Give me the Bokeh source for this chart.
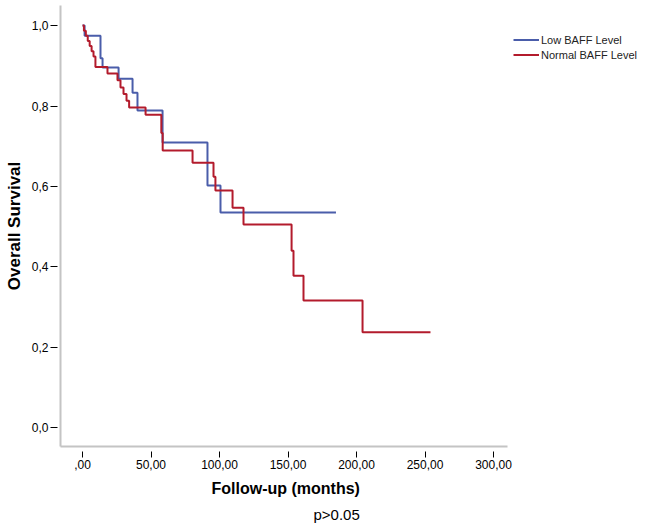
from bokeh.plotting import figure
from bokeh.models import Range1d, FixedTicker, Legend, LegendItem, Title
from bokeh.embed import file_html
from bokeh.resources import INLINE

# ---- data ----
low_t = [0, 1.5, 13.1, 14.6, 26.3, 36.5, 40.1, 58.4, 91.2, 100.7, 185.0]
low_s = [1.0, 0.975, 0.919, 0.896, 0.868, 0.833, 0.789, 0.709, 0.602, 0.535, 0.535]

norm_t = [0, 1.0, 2.4, 3.8, 5.2, 6.6, 8.0, 9.4, 18.2, 25.5, 27.7, 29.9, 32.1, 34.0,
          46.0, 57.5, 58.5, 80.3, 95.6, 97.0, 109.5, 117.5, 152.6, 154.0, 161.3, 204.4, 254.0]
norm_s = [1.0, 0.987, 0.975, 0.962, 0.949, 0.936, 0.923, 0.897, 0.881, 0.864, 0.846, 0.830, 0.813, 0.796,
          0.778, 0.733, 0.689, 0.659, 0.624, 0.590, 0.547, 0.505, 0.440, 0.378, 0.316, 0.237, 0.237]

x_ticks = [0, 50, 100, 150, 200, 250, 300]
x_tick_labels = [",00", "50,00", "100,00", "150,00", "200,00", "250,00", "300,00"]
y_ticks = [0.0, 0.2, 0.4, 0.6, 0.8, 1.0]
y_tick_labels = ["0,0", "0,2", "0,4", "0,6", "0,8", "1,0"]

series_names = ["Low BAFF Level", "Normal BAFF Level"]
x_title = "Follow-up (months)"
y_title = "Overall Survival"
note_text = "p>0.05"

BLUE = "#4a5daa"
RED = "#b31b2c"
AXIS_GREY = "#c4c4c4"
FONT = "Liberation Sans"

X_MIN, X_AXIS_END, X_MAX = -16.1, 310.2, 411.7

p = figure(width=646, height=526, output_backend="svg", toolbar_location=None,
           x_range=Range1d(X_MIN, X_MAX), y_range=Range1d(-0.047, 1.050),
           min_border_left=60, min_border_right=0, min_border_top=5, min_border_bottom=80)
p.outline_line_color = None
p.xgrid.visible = False
p.ygrid.visible = False
p.background_fill_color = "white"

r_low = p.step(low_t, low_s, mode="after", line_color=BLUE, line_width=2)
r_norm = p.step(norm_t, norm_s, mode="after", line_color=RED, line_width=2)

# axes
for ax in (p.xaxis[0], p.yaxis[0]):
    ax.axis_line_color = AXIS_GREY
    ax.axis_line_width = 2
    ax.major_tick_line_color = "black"
    ax.major_tick_line_width = 1
    ax.minor_tick_line_color = None
    ax.major_label_text_font = FONT
    ax.major_label_text_font_size = "12px"
    ax.major_label_text_color = "black"
    ax.axis_label_text_font = FONT
    ax.axis_label_text_font_style = "bold"
    ax.axis_label_text_color = "black"

p.xaxis.bounds = (X_MIN, X_AXIS_END)
p.xaxis.ticker = FixedTicker(ticks=x_ticks)
p.xaxis.major_label_overrides = {t: l for t, l in zip(x_ticks, x_tick_labels)}
p.xaxis.major_tick_in = -5
p.xaxis.major_tick_out = 11
p.xaxis.major_label_standoff = 2

p.yaxis.ticker = FixedTicker(ticks=y_ticks)
p.yaxis.major_label_overrides = {t: l for t, l in zip(y_ticks, y_tick_labels)}
p.yaxis.major_tick_in = -3
p.yaxis.major_tick_out = 10
p.yaxis.major_label_standoff = 2
p.yaxis.axis_label = y_title
p.yaxis.axis_label_text_font_size = "17px"
p.yaxis.axis_label_standoff = 5

# legend
legend = Legend(items=[LegendItem(label=series_names[0], renderers=[r_low]),
                       LegendItem(label=series_names[1], renderers=[r_norm])],
                location=(453, 384), orientation="vertical")
legend.border_line_color = None
legend.background_fill_alpha = 0
legend.padding = 0
legend.spacing = 0
legend.margin = 0
legend.glyph_width = 26
legend.glyph_height = 15
legend.label_height = 15
legend.label_standoff = 2
legend.label_text_font = FONT
legend.label_text_font_size = "11px"
legend.label_text_color = "#222222"
p.add_layout(legend)

# x-axis title (centred under the axis line, not the wider frame) and p-value note
xt = Title(text=x_title, align="left", offset=151, standoff=13, text_font=FONT,
           text_font_size="16px", text_font_style="bold", text_color="black")
p.add_layout(xt, "below")
note = Title(text=note_text, align="left", offset=253, standoff=1, text_font=FONT,
             text_font_size="15px", text_font_style="normal", text_color="black")
p.add_layout(note, "below")

open("out.html", "w").write(file_html(p, INLINE))
